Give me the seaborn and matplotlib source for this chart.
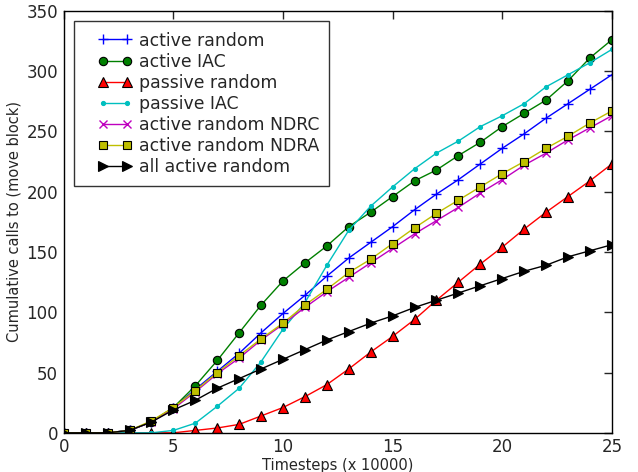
import matplotlib
matplotlib.use("Agg")
import matplotlib.pyplot as plt
import seaborn as sns
from matplotlib.lines import Line2D
from matplotlib.legend_handler import HandlerLine2D

steps = list(range(26))

active_random = [0, 0, 0, 2, 9, 21, 36, 51, 66, 83, 99, 114, 130, 145, 158, 171,
                 185, 198, 210, 223, 236, 248, 261, 273, 285, 297]
active_iac = [0, 0, 0, 2, 9, 21, 39, 60, 83, 106, 126, 141, 155, 171, 183, 196,
              209, 218, 230, 241, 254, 265, 276, 292, 311, 326]
passive_random = [0, 0, 0, 0, 0, 0, 2, 4, 7, 14, 21, 30, 40, 53, 67, 80,
                  94, 110, 125, 140, 154, 169, 183, 196, 209, 223]
passive_iac = [0, 0, 0, 0, 0, 2, 8, 22, 37, 59, 86, 108, 139, 168, 188, 204,
               219, 232, 242, 254, 263, 273, 287, 297, 307, 318]
active_ndrc = [0, 0, 0, 2, 9, 20, 34, 49, 62, 77, 90, 104, 117, 129, 141, 153,
               165, 176, 187, 199, 210, 222, 232, 243, 253, 263]
active_ndra = [0, 0, 0, 2, 10, 21, 35, 50, 64, 78, 91, 106, 119, 133, 144, 157,
               170, 182, 193, 204, 215, 225, 236, 246, 257, 267]
all_active = [0, 0, 0, 2, 9, 19, 27, 37, 45, 53, 61, 69, 77, 84, 91, 97,
              104, 110, 116, 122, 128, 134, 139, 146, 151, 156]

series = [
    ("active random", active_random, (0, 0, 1), "+", None, 7),
    ("active IAC", active_iac, (0, 0.5, 0), "o", "k", 6),
    ("passive random", passive_random, (1, 0, 0), "^", "k", 6.5),
    ("passive IAC", passive_iac, (0, 0.75, 0.75), ".", None, 5.5),
    ("active random NDRC", active_ndrc, (0.75, 0, 0.75), "x", None, 5.5),
    ("active random NDRA", active_ndra, (0.75, 0.75, 0), "s", "k", 6),
    ("all active random", all_active, (0, 0, 0), ">", "k", 6.5),
]

sns.set_style("white", {"xtick.direction": "in", "ytick.direction": "in",
                        "axes.edgecolor": "black"})
plt.rcParams["font.family"] = ["DejaVu Sans"]

fig, ax = plt.subplots(figsize=(6.38, 4.72), dpi=100)
fig.subplots_adjust(left=0.100, right=0.959, bottom=0.083, top=0.977)

for name, vals, col, mk, edge, ms in series:
    sns.lineplot(x=steps, y=vals, ax=ax, color=col, marker=mk, markersize=ms,
                 markeredgecolor=edge if edge else col, markeredgewidth=0.8 if edge else 1.0,
                 linewidth=1.0, label=name)

ax.set_xlim(0, 25)
ax.set_ylim(0, 350)
ax.set_xticks([0, 5, 10, 15, 20, 25])
ax.set_yticks(range(0, 351, 50))
ax.tick_params(which="both", direction="in", top=True, right=True, length=6,
               width=1, labelsize=12, pad=4)
for s in ax.spines.values():
    s.set_linewidth(1.0)
ax.set_xlabel("Timesteps (x 10000)", fontsize=10.5, labelpad=1)
ax.set_ylabel("Cumulative calls to (move block)", fontsize=10.5, labelpad=4)

leg = ax.legend(loc="upper left", fontsize=12.4, fancybox=False, frameon=True,
                handler_map={Line2D: HandlerLine2D(numpoints=2, xpad=0.75)},
                handlelength=2.75, handletextpad=0.4, labelspacing=0.18,
                borderpad=0.6, borderaxespad=0.6)
leg.get_frame().set_edgecolor("black")
leg.get_frame().set_linewidth(1.0)

fig.savefig("out.png", dpi=100)
